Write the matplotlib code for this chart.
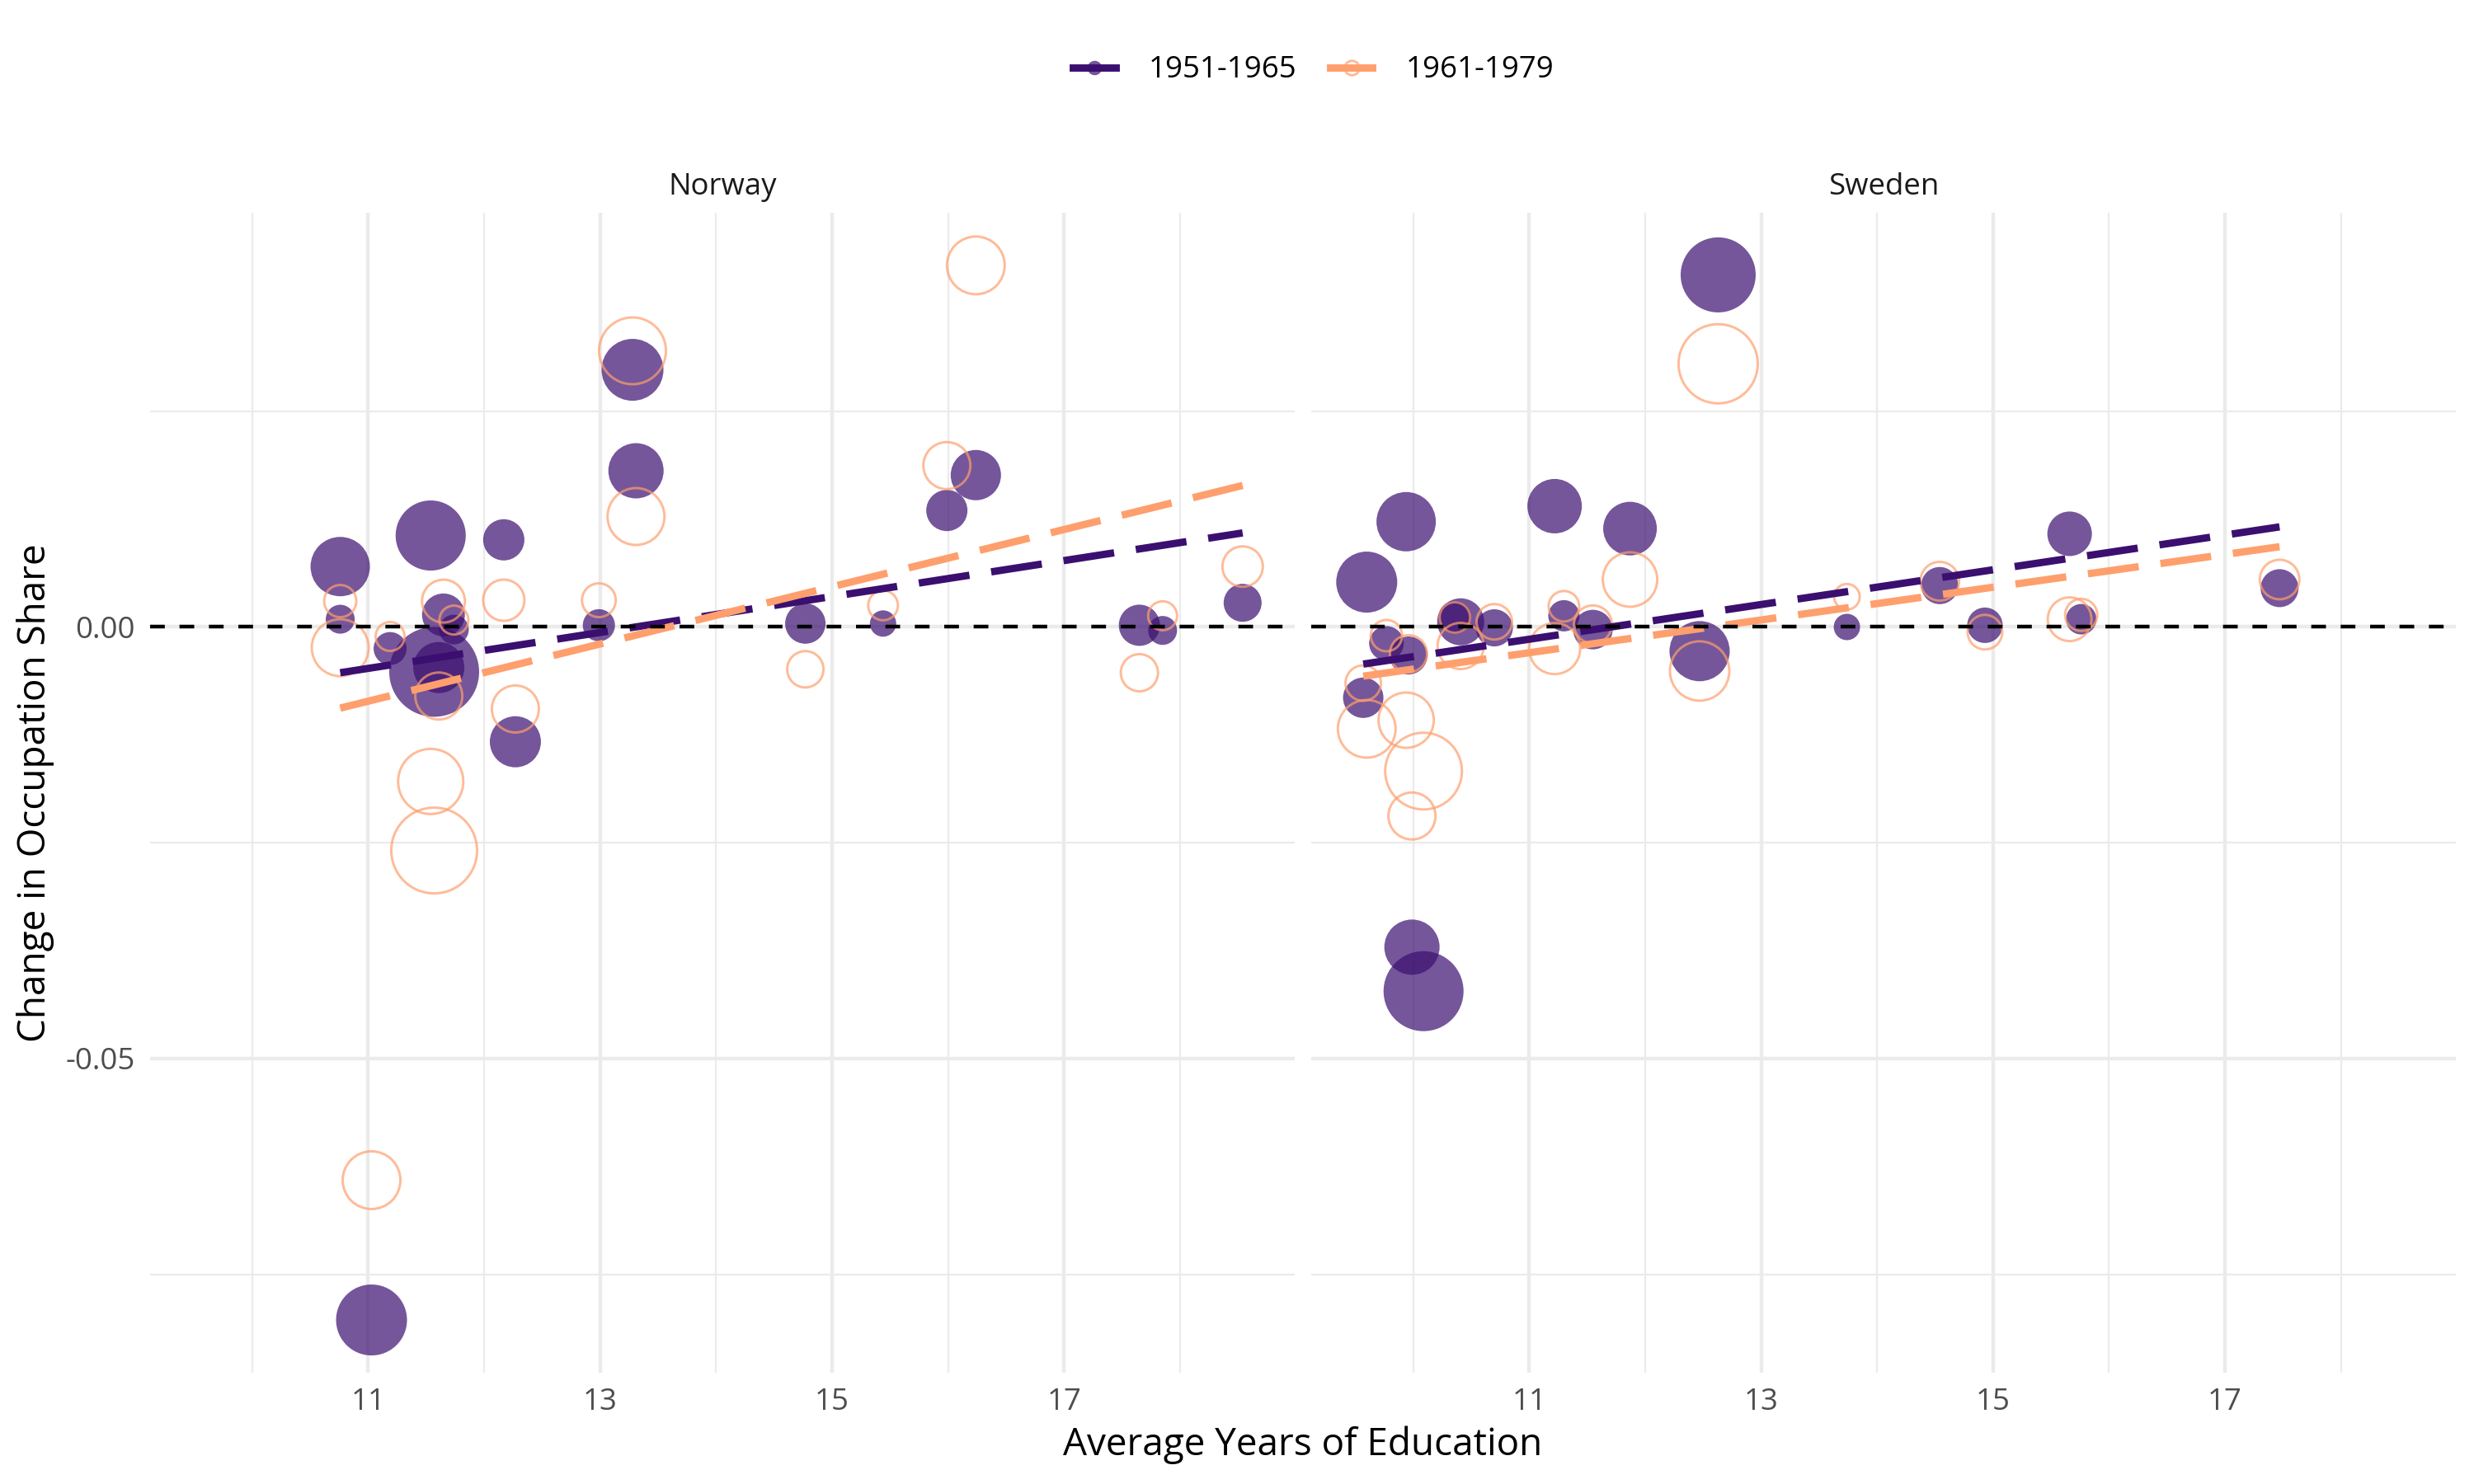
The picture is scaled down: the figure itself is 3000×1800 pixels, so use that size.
import numpy as np
import matplotlib
matplotlib.use('Agg')
import matplotlib.pyplot as plt
from matplotlib.lines import Line2D
from matplotlib.legend_handler import HandlerTuple

plt.rcParams['font.family'] = ['Open Sans', 'DejaVu Sans']
plt.rcParams['axes.unicode_minus'] = False

#%% data

cohorts = ['1951-1965', '1961-1979']
countries = ['Norway', 'Sweden']

# one x per occupation, change in share and bubble weight for each cohort
norway_edu = [10.76, 10.76, 11.03, 11.19, 11.54, 11.57, 11.61, 11.65, 11.74, 12.17, 12.27,
              12.99, 13.28, 13.31, 14.77, 15.44, 15.99, 16.24, 17.65, 17.85, 18.54]
norway_chg_51 = [0.0070, 0.0009, -0.0803, -0.0025, 0.0106, -0.0052, -0.0047, 0.0014, -0.0003, 0.0101, -0.0133,
                 0.0002, 0.0298, 0.0181, 0.0004, 0.0004, 0.0135, 0.0176, 0.0002, -0.0004, 0.0028]
norway_chg_61 = [-0.0024, 0.0030, -0.0641, -0.0011, -0.0179, -0.0259, -0.0080, 0.0030, 0.0008, 0.0031, -0.0095,
                 0.0031, 0.0320, 0.0128, -0.0049, 0.0025, 0.0187, 0.0419, -0.0053, 0.0013, 0.0070]
norway_w_51 = [51.8, 12.3, 74.0, 16.0, 72.3, 118.8, 38.4, 27.0, 13.0, 25.0, 38.4,
               15.2, 56.3, 44.9, 24.0, 10.2, 25.0, 37.2, 25.0, 12.3, 21.2]
norway_w_61 = [47.6, 15.2, 49.0, 12.3, 62.4, 108.2, 32.5, 27.0, 12.3, 25.0, 32.5,
               16.8, 65.6, 47.6, 19.4, 13.0, 32.5, 49.0, 20.3, 12.3, 24.0]

sweden_edu = [9.57, 9.60, 9.77, 9.94, 9.96, 9.99, 10.09, 10.36, 10.41, 10.70, 11.22,
              11.30, 11.55, 11.87, 12.47, 12.63, 13.74, 14.54, 14.93, 15.66, 15.76, 17.47]
sweden_chg_51 = [-0.0082, 0.0052, -0.0019, 0.0122, -0.0033, -0.0371, -0.0422, 0.0011, 0.0006, -0.0001, 0.0140,
                 0.0013, -0.0003, 0.0114, -0.0028, 0.0408, 0.0000, 0.0048, 0.0002, 0.0108, 0.0009, 0.0045]
sweden_chg_61 = [-0.0065, -0.0118, -0.0010, -0.0108, -0.0031, -0.0219, -0.0167, 0.0011, -0.0022, 0.0006, -0.0025,
                 0.0024, 0.0003, 0.0055, -0.0051, 0.0305, 0.0035, 0.0053, -0.0006, 0.0009, 0.0014, 0.0055]
sweden_w_51 = [24.0, 54.8, 17.6, 51.8, 21.2, 44.9, 94.1, 16.0, 32.5, 20.3, 43.6,
               14.4, 23.0, 42.3, 53.3, 82.8, 10.2, 20.3, 18.5, 29.2, 13.7, 21.2]
sweden_w_61 = [18.5, 49.0, 14.4, 44.9, 20.3, 32.5, 86.5, 13.7, 31.4, 18.5, 38.4,
               13.7, 21.2, 43.6, 51.8, 92.2, 9.6, 22.1, 17.6, 28.1, 15.2, 23.0]

# fitted trend lines, end points
norway_fit_x = [10.76, 18.54]
norway_fit_51 = [-0.0053, 0.0109]
norway_fit_61 = [-0.0094, 0.0164]
sweden_fit_x = [9.57, 17.47]
sweden_fit_51 = [-0.0043, 0.0116]
sweden_fit_61 = [-0.0057, 0.0093]

#%% styling

purple = '#3B0F70'
orange = '#FE9F6D'
grid_col = '#EBEBEB'
size_scale = 5.76

panels = {
    'Norway': (norway_edu, norway_chg_51, norway_chg_61, norway_w_51, norway_w_61,
               norway_fit_x, norway_fit_51, norway_fit_61),
    'Sweden': (sweden_edu, sweden_chg_51, sweden_chg_61, sweden_w_51, sweden_w_61,
               sweden_fit_x, sweden_fit_51, sweden_fit_61),
}

all_x = norway_edu + sweden_edu
all_y = norway_chg_51 + norway_chg_61 + sweden_chg_51 + sweden_chg_61
xr = max(all_x) - min(all_x)
yr = max(all_y) - min(all_y)
xlim = (min(all_x) - 0.05 * xr, max(all_x) + 0.05 * xr)
ylim = (min(all_y) - 0.05 * yr, max(all_y) + 0.05 * yr)

fig = plt.figure(figsize=(10, 6), dpi=300)
bottom, height, width = 0.075, 0.7817, 0.4626
axes = [fig.add_axes([0.0607, bottom, width, height]),
        fig.add_axes([0.5300, bottom, width, height])]

for ax, country in zip(axes, countries):
    x, y51, y61, w51, w61, fx, f51, f61 = panels[country]

    ax.scatter(x, y51, s=np.array(w51) * size_scale, color=purple, alpha=0.7,
               edgecolors='none', zorder=2)
    ax.scatter(x, y61, s=np.array(w61) * size_scale, facecolors='none',
               edgecolors=orange, alpha=0.7, linewidths=0.71, zorder=2.1)

    ax.plot(fx, f51, color=purple, lw=2.13, dashes=(7, 3), dash_capstyle='butt', zorder=3)
    ax.plot(fx, f61, color=orange, lw=2.13, dashes=(7, 3), dash_capstyle='butt', zorder=3)

    ax.axhline(0, color='black', lw=1.07, dashes=(4, 4), zorder=4)

    ax.set_xlim(xlim)
    ax.set_ylim(ylim)
    ax.set_xticks([11, 13, 15, 17])
    ax.set_xticks([10, 12, 14, 16, 18], minor=True)
    ax.set_yticks([-0.05, 0.0])
    ax.set_yticklabels(['-0.05', '0.00'])
    ax.set_yticks([-0.075, -0.025, 0.025], minor=True)
    ax.grid(which='major', color=grid_col, lw=1.07)
    ax.grid(which='minor', color=grid_col, lw=0.53)
    ax.set_axisbelow(True)
    for sp in ax.spines.values():
        sp.set_visible(False)
    ax.tick_params(which='both', length=0, labelsize=8.8, labelcolor='#4D4D4D')
    ax.tick_params(axis='x', pad=4.2)
    ax.tick_params(axis='y', pad=4.4)
    ax.text(0.5, 1.022, country, transform=ax.transAxes, ha='center', va='center',
            fontsize=8.8, color='#1A1A1A')

axes[1].tick_params(labelleft=False)

fig.text(0.5267, 0.026, 'Average Years of Education', ha='center', va='center', fontsize=11)
fig.text(0.0145, 0.4658, 'Change in Occupation Share', ha='center', va='center',
         rotation=90, fontsize=11)

handles = [
    (Line2D([], [], color=purple, lw=2.13),
     Line2D([], [], ls='none', marker='o', ms=4.2, mfc=purple, mec='none', alpha=0.7)),
    (Line2D([], [], color=orange, lw=2.13),
     Line2D([], [], ls='none', marker='o', ms=4.2, mfc='none', mec=orange, mew=0.71, alpha=0.7)),
]
fig.legend(handles, cohorts, loc='center', bbox_to_anchor=(0.531, 0.9525), ncol=2,
           frameon=False, fontsize=8.8, handlelength=1.4, handletextpad=1.1,
           columnspacing=1.1, handler_map={tuple: HandlerTuple(ndivide=1)})

fig.savefig('out.png', dpi=300)
